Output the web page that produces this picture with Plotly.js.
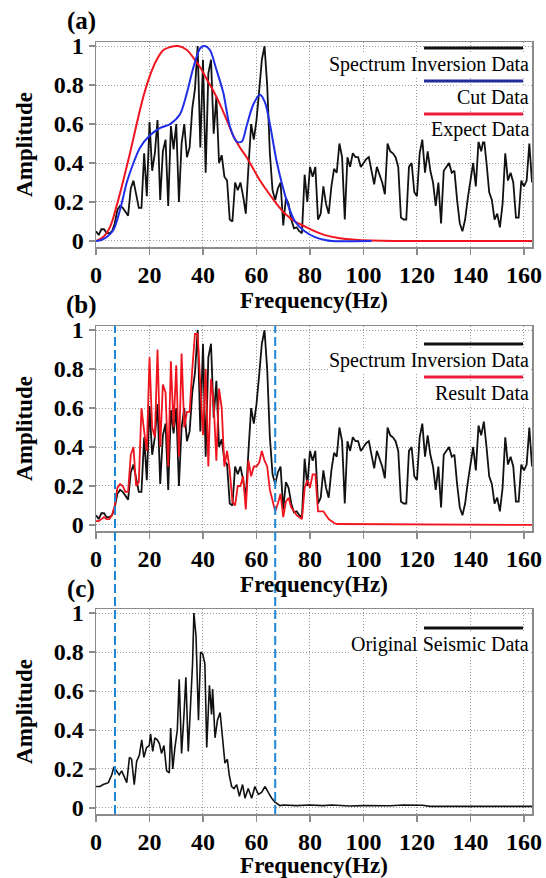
<!DOCTYPE html>
<html><head><meta charset="utf-8">
<script src="https://cdn.plot.ly/plotly-3.0.1.min.js"></script>
<style>html,body{margin:0;padding:0;background:#fff;}#chart{width:546px;height:878px;}</style>
</head><body><div id="chart"></div>
<script>
// ---------- DATA ----------
const specFreq = [0,1,2,3,4,5,6,7,8,9,10,11,12,13,14,15,16,17,18,19,20,21,22,23,24,25,26,27,28,29,30,31,32,33,34,35,36,37,38,39,40,41,42,43,44,45,46,47,48,49,50,51,52,53,54,55,56,57,58,59,60,61,62,63,64,65,66,67,68,69,70,71,72,73,74,75,76,77,78,79,80,81,82,83,84,85,86,87,88,89,90,91,92,93,94,95,96,97,98,99,100,101,102,103,104,105,106,107,108,109,110,111,112,113,114,115,116,117,118,119,120,121,122,123,124,125,126,127,128,129,130,131,132,133,134,135,136,137,138,139,140,141,142,143,144,145,146,147,148,149,150,151,152,153,154,155,156,157,158,159,160,161,162,163];
const specAmp = [0.05,0.03,0.06,0.06,0.04,0.04,0.05,0.09,0.16,0.18,0.17,0.15,0.13,0.27,0.31,0.24,0.17,0.17,0.45,0.23,0.61,0.36,0.45,0.62,0.21,0.46,0.52,0.18,0.59,0.47,0.60,0.20,0.50,0.60,0.43,0.48,0.68,0.78,1.00,0.48,0.93,0.35,0.86,0.93,0.55,0.74,0.40,0.44,0.33,0.31,0.11,0.10,0.30,0.26,0.30,0.23,0.14,0.38,0.60,0.52,0.62,0.77,0.93,1.00,0.80,0.45,0.26,0.21,0.27,0.30,0.08,0.22,0.19,0.11,0.065,0.07,0.05,0.04,0.34,0.20,0.38,0.33,0.38,0.11,0.14,0.28,0.19,0.14,0.28,0.37,0.35,0.50,0.43,0.11,0.43,0.38,0.45,0.43,0.43,0.38,0.40,0.42,0.43,0.35,0.29,0.38,0.34,0.30,0.24,0.50,0.46,0.45,0.43,0.38,0.12,0.11,0.11,0.38,0.40,0.25,0.23,0.45,0.52,0.35,0.46,0.36,0.30,0.18,0.30,0.09,0.36,0.38,0.40,0.35,0.36,0.21,0.09,0.05,0.11,0.22,0.31,0.40,0.28,0.51,0.46,0.53,0.40,0.25,0.21,0.11,0.14,0.07,0.19,0.45,0.31,0.35,0.30,0.12,0.12,0.31,0.28,0.31,0.50,0.30];

const cutFreq = [0,2,4,6.5,9,11.5,14,16.5,20,24,27.7,31.4,34,36.4,39,40.7,42.6,45,47.6,50,52.6,54.5,56.3,58.8,61.3,63.2,65,67.5,69.4,71.9,74.4,78,81.9,85.6,88,103];
const cutAmp  = [0,0.005,0.02,0.056,0.16,0.30,0.40,0.48,0.54,0.58,0.60,0.65,0.76,0.89,0.99,1.0,0.98,0.88,0.76,0.59,0.51,0.51,0.59,0.70,0.75,0.71,0.60,0.41,0.30,0.18,0.10,0.05,0.02,0.005,0,0];

const expFreq = [0,2.7,5.2,7.7,10.2,12.7,15.2,17.7,20.2,22.7,25.2,27.7,30.8,34,36.4,39,41.4,43.9,46.4,48.9,51.3,53.8,56.3,58.8,61.3,63.8,67,70.7,74.4,78.2,81.9,85.6,90.6,96.8,103,112,163];
const expAmp  = [0,0.02,0.07,0.18,0.31,0.45,0.60,0.74,0.85,0.93,0.98,0.995,1.0,0.98,0.94,0.89,0.83,0.77,0.70,0.62,0.54,0.48,0.43,0.37,0.31,0.26,0.20,0.14,0.10,0.074,0.049,0.03,0.015,0.006,0.002,0,0];

const resFreq = [0,1,2,3,4,5,6,7,8,9,10,11,12,13,14,15,16,17,18,19,20,21,22,23,24,25,26,27,28,29,30,31,32,33,34,35,36,37,38,39,40,41,42,43,44,45,46,47,48,49,50,51,52,53,54,55,56,57,58,59,60,61,62,63,64,65,66,67,68,69,70,71,72,73,74,75,76,77,78,79,80,81,82,83,84,85,86,87,88,89,90,163];
const resAmp  = [0.02,0.02,0.03,0.04,0.03,0.03,0.05,0.10,0.19,0.21,0.20,0.17,0.17,0.36,0.40,0.20,0.22,0.60,0.48,0.38,0.86,0.50,0.45,0.90,0.40,0.72,0.68,0.30,0.84,0.50,0.82,0.35,0.88,0.50,0.58,0.58,0.80,0.98,0.98,0.75,0.46,0.80,0.30,0.75,0.62,0.33,0.70,0.60,0.30,0.38,0.28,0.12,0.10,0.20,0.20,0.25,0.08,0.33,0.25,0.30,0.30,0.32,0.38,0.33,0.30,0.18,0.13,0.07,0.11,0.16,0.04,0.12,0.14,0.09,0.07,0.05,0.04,0.03,0.19,0.23,0.19,0.26,0.26,0.07,0.07,0.07,0.05,0.03,0.02,0.01,0.005,0];

const origFreq = [0,1.5,2.7,4.6,5.9,6.7,7.7,8.7,9.6,10.5,11.5,12.5,13.3,14.3,15.2,16.2,17.1,17.9,18.9,19.9,20.4,21.2,22,22.9,23.7,24.5,25.4,26.4,27.4,27.9,28.7,29.5,30.4,31.1,32,32.9,33.6,34.5,35.4,36.1,36.6,37.4,38.3,39.1,39.9,40.7,41.4,42.4,43.2,43.6,44.5,45.4,46.4,47.4,48.2,49.1,49.8,50.7,51.6,52.6,53.6,54.8,55.7,56.9,58.2,59.4,60.7,61.9,63.2,64.4,65.7,66.9,68.8,70,75,80,85,88,95,100,110,115,120,122,125,163];
const origAmp  = [0.11,0.11,0.12,0.13,0.17,0.21,0.19,0.17,0.19,0.16,0.13,0.26,0.25,0.12,0.24,0.27,0.35,0.26,0.31,0.32,0.38,0.29,0.36,0.35,0.33,0.28,0.32,0.19,0.18,0.41,0.20,0.31,0.40,0.66,0.28,0.48,0.67,0.29,0.53,0.74,1.0,0.88,0.45,0.80,0.79,0.74,0.31,0.63,0.48,0.61,0.36,0.45,0.49,0.36,0.23,0.25,0.17,0.11,0.10,0.12,0.06,0.12,0.05,0.10,0.05,0.11,0.07,0.08,0.11,0.08,0.05,0.03,0.012,0.015,0.012,0.015,0.012,0.015,0.01,0.012,0.011,0.015,0.012,0.014,0.008,0.008];

const cutoffs = [7.1, 67];
const xTicks = [0,20,40,60,80,100,120,140,160];
const yTicks = [0,0.2,0.4,0.6,0.8,1];
const yTickText = ['0','0.2','0.4','0.6','0.8','1'];
const panelLabels = ['(a)','(b)','(c)'];
const legendA = ['Spectrum Inversion Data','Cut Data','Expect Data'];
const legendB = ['Spectrum Inversion Data','Result Data'];
const legendC = ['Original Seismic Data'];

// ---------- LAYOUT ----------
const W = 546, H = 878, ML = 96, MR = 14;
const PW = W - ML - MR;
const panels = [[42,247],[326,531],[609,814]];
const dom = p => [1 - p[1]/H, 1 - p[0]/H];
const px = x => (x - ML)/PW;
const py = y => 1 - y/H;

const serif = 'Liberation Serif';
const tickFont = {family: serif, size: 24, color: '#000', weight: 'bold'};
const titleFont = {family: serif, size: 23, color: '#000', weight: 'bold'};
const legFont = {family: serif, size: 20, color: '#000'};
const BLACK = '#111111', BLUE = '#1f2fe8', RED = '#f0141e', DASH = '#1f86d6';

function xaxis(anchor){
  return {domain:[0,1], anchor: anchor, range:[0,163], tickvals: xTicks, ticktext: xTicks.map(String),
    showline:true, mirror:true, linecolor:'#8c8c8c', linewidth:1.5,
    showgrid:true, gridcolor:'#9a9a9a', griddash:'1px,2px', gridwidth:1,
    ticks:'outside', ticklen:6, tickcolor:'#8c8c8c', tickwidth:1.2, tickfont: tickFont, zeroline:false,
    title:{text:'Frequency(Hz)', font: titleFont, standoff: 2}};
}
function yaxis(anchor, p){
  return {domain: dom(p), anchor: anchor, range:[-0.031,1.021], tickvals: yTicks, ticktext: yTickText,
    showline:true, mirror:true, linecolor:'#8c8c8c', linewidth:1.5,
    showgrid:true, gridcolor:'#9a9a9a', griddash:'1px,2px', gridwidth:1,
    ticks:'outside', ticklen:6, tickcolor:'#8c8c8c', tickwidth:1.2, tickfont: tickFont, zeroline:false,
    title:{text:'Amplitude', font: titleFont, standoff: 14}};
}

const traces = [
  {x: specFreq, y: specAmp, xaxis:'x', yaxis:'y', mode:'lines', line:{color:BLACK, width:1.8}},
  {x: expFreq, y: expAmp, xaxis:'x', yaxis:'y', mode:'lines', line:{color:RED, width:2, shape:'spline'}},
  {x: cutFreq, y: cutAmp, xaxis:'x', yaxis:'y', mode:'lines', line:{color:BLUE, width:2, shape:'spline', smoothing:0.8}},
  {x: specFreq, y: specAmp, xaxis:'x2', yaxis:'y2', mode:'lines', line:{color:BLACK, width:1.8}},
  {x: resFreq, y: resAmp, xaxis:'x2', yaxis:'y2', mode:'lines', line:{color:RED, width:1.8}},
  {x: origFreq, y: origAmp, xaxis:'x3', yaxis:'y3', mode:'lines', line:{color:BLACK, width:1.6}}
];

const shapes = [];
const annotations = [];
cutoffs.forEach(c => shapes.push({type:'line', xref:'x2', yref:'paper', x0:c, x1:c,
  y0: py(panels[2][1]), y1: py(panels[1][0]), line:{color:DASH, width:2, dash:'9px,4px'}, layer:'above'}));

function legend(items, colors, topPx){
  items.forEach((t,i) => {
    const lineY = topPx + i*33;
    shapes.push({type:'line', xref:'paper', yref:'paper', x0:px(424), x1:px(523), y0:py(lineY), y1:py(lineY),
      line:{color:colors[i], width:3}, layer:'above'});
    annotations.push({xref:'paper', yref:'paper', x:px(530), y:py(lineY+16), xanchor:'right', yanchor:'middle',
      text:t, showarrow:false, font:legFont, bgcolor:'#ffffff', borderpad:0});
  });
}
legend(legendA, ['#111111','#222c9c','#ee1c3c'], 48);
legend(legendB, ['#111111','#ee1c3c'], 344);
legend(legendC, ['#111111'], 628);

const labelY = [21, 305, 589];
panelLabels.forEach((t,i) => annotations.push({xref:'paper', yref:'paper', x:px(81), y:py(labelY[i]),
  xanchor:'center', yanchor:'middle', text:t, showarrow:false,
  font:{family:serif, size:25, color:'#000', weight:'bold'}}));

const layout = {
  width: W, height: H, margin:{l:ML, r:MR, t:0, b:0},
  paper_bgcolor:'#ffffff', plot_bgcolor:'#ffffff', showlegend:false,
  xaxis: xaxis('y'), yaxis: yaxis('x', panels[0]),
  xaxis2: xaxis('y2'), yaxis2: yaxis('x2', panels[1]),
  xaxis3: xaxis('y3'), yaxis3: yaxis('x3', panels[2]),
  shapes: shapes, annotations: annotations
};
Plotly.newPlot('chart', traces, layout, {staticPlot:true, displayModeBar:false});
</script></body></html>
